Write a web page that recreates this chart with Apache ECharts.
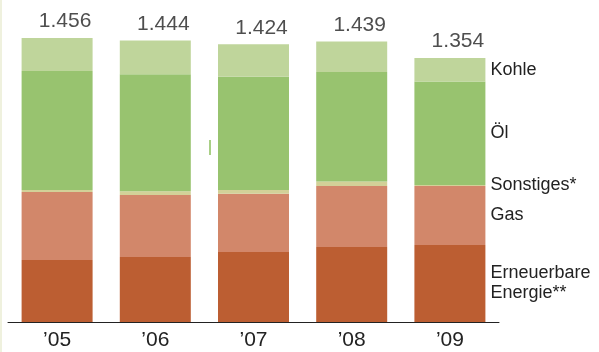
<!DOCTYPE html>
<html>
<head>
<meta charset="utf-8">
<script src="https://cdn.jsdelivr.net/npm/echarts@6/dist/echarts.min.js"></script>
<style>html,body{margin:0;padding:0;background:#fff}#c{width:599px;height:352px}</style>
</head>
<body>
<div id="c"></div>
<script>
const categories = ['’05', '’06', '’07', '’08', '’09'];
const totals = [1456, 1444, 1424, 1439, 1354];
const totalLabels = ['1.456', '1.444', '1.424', '1.439', '1.354'];
const erneuerbare = [318, 333, 359, 385, 395];
const gas = [349, 318, 299, 313, 303];
const sonstiges = [10, 20, 19, 22, 5];
const oel = [610, 600, 581, 562, 530];
const kohle = [169, 173, 166, 157, 121];

const seriesDefs = [
  {name: 'Erneuerbare\nEnergie**', data: erneuerbare, color: '#bc5e32'},
  {name: 'Gas', data: gas, color: '#d2876a'},
  {name: 'Sonstiges*', data: sonstiges, color: '#d2d198'},
  {name: 'Öl', data: oel, color: '#98c36f'},
  {name: 'Kohle', data: kohle, color: '#bfd59b'}
];

const font = "'Liberation Sans', Arial, sans-serif";
const chart = echarts.init(document.getElementById('c'), null, {renderer: 'canvas'});

const series = seriesDefs.map(s => ({
  type: 'bar',
  name: s.name,
  stack: 'total',
  barWidth: 71,
  itemStyle: {color: s.color},
  emphasis: {disabled: true},
  data: s.data.map((v, i) => i === s.data.length - 1 ? {
    value: v,
    label: {
      show: true, position: 'right', distance: 5,
      formatter: s.name, color: '#222', fontSize: 18, fontFamily: font, lineHeight: 20
    }
  } : v)
}));

series.push({
  type: 'scatter',
  data: totals,
  symbolSize: 0,
  silent: true,
  label: {
    show: true, position: 'top', distance: 6, offset: [8, 0],
    formatter: p => totalLabels[p.dataIndex],
    color: '#222', fontSize: 21, fontFamily: font
  },
  z: 5
});

chart.setOption({
  animation: false,
  grid: {left: 8, right: 100, top: 29.5, bottom: 30, containLabel: false},
  xAxis: {
    type: 'category', data: categories,
    axisLine: {show: true, lineStyle: {color: '#222', width: 1}},
    axisTick: {show: false},
    axisLabel: {color: '#222', fontSize: 21, fontFamily: font, margin: 8}
  },
  yAxis: {type: 'value', min: 0, max: 1500, show: false},
  series: series,
  graphic: [
    {type: 'rect', shape: {x: 0, y: 0, width: 2, height: 352}, style: {fill: '#eff1de'}, silent: true},
    {type: 'rect', shape: {x: 209, y: 140, width: 2, height: 15}, style: {fill: '#a9cf86'}, silent: true}
  ]
});
</script>
</body>
</html>
